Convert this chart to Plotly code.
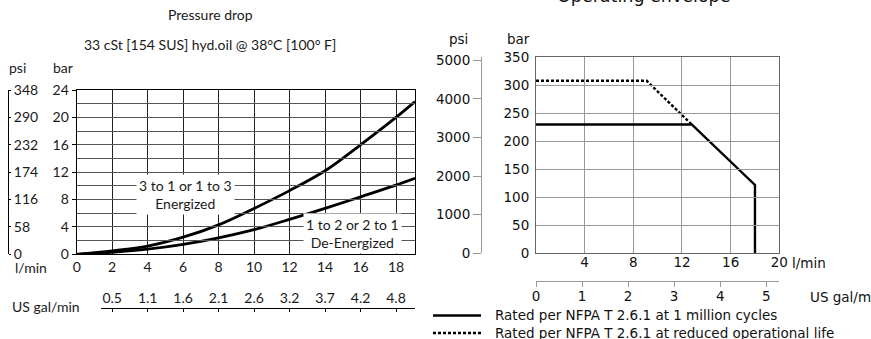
import plotly.graph_objects as go

W, H = 871, 339

# ---- left chart: pressure drop ----
FLOW_LPM = [0, 2, 4, 6, 8, 10, 12, 14, 16, 18, 19.07]
ENERGIZED_BAR = [0, 0.5, 1.2, 2.5, 4.3, 6.7, 9.3, 12.2, 16.0, 20.0, 22.3]
DEENERGIZED_BAR = [0, 0.3, 0.75, 1.45, 2.4, 3.6, 5.1, 6.7, 8.4, 10.1, 11.1]
LPM_TICKS = [0, 2, 4, 6, 8, 10, 12, 14, 16, 18]
BAR_TICKS = [0, 4, 8, 12, 16, 20, 24]
PSI_TICKS = [0, 58, 116, 174, 232, 290, 348]
GAL_TICK_LPM = [2, 4, 6, 8, 10, 12, 14, 16, 18]
GAL_LABELS = ["0.5", "1.1", "1.6", "2.1", "2.6", "3.2", "3.7", "4.2", "4.8"]

# ---- right chart: operating envelope ----
RATED_FLOW = [0, 12.8, 18, 18]
RATED_BAR = [230, 230, 122, 0]
REDUCED_FLOW = [0, 9.1, 12.8]
REDUCED_BAR = [308, 308, 230]
ENV_LPM_TICKS = [4, 8, 12, 16, 20]
ENV_BAR_TICKS = [0, 50, 100, 150, 200, 250, 300, 350]
ENV_PSI_TICKS = [0, 1000, 2000, 3000, 4000, 5000]
ENV_GAL_TICKS = [0, 1, 2, 3, 4, 5]

GAL_PER_L = 1 / 3.78541
PSI_PER_BAR = 14.5038

LFONT = dict(family="Lato, Open Sans, sans-serif", size=14, color="#1a1a1a")
RFONT = dict(family="DejaVu Sans, Liberation Sans, sans-serif", size=13.5, color="#111")


def px(x):
    return x / W


def py(y):
    return 1 - y / H


fig = go.Figure()

fig.add_scatter(x=FLOW_LPM, y=ENERGIZED_BAR, mode="lines", line=dict(color="black", width=2.8, shape="spline"),
                xaxis="x", yaxis="y", hoverinfo="skip")
fig.add_scatter(x=FLOW_LPM, y=DEENERGIZED_BAR, mode="lines", line=dict(color="black", width=2.8, shape="spline"),
                xaxis="x", yaxis="y", hoverinfo="skip")
fig.add_scatter(x=REDUCED_FLOW, y=REDUCED_BAR, mode="lines", line=dict(color="black", width=2.4, dash="3px,2px"),
                xaxis="x2", yaxis="y2", hoverinfo="skip")
fig.add_scatter(x=RATED_FLOW, y=RATED_BAR, mode="lines", line=dict(color="black", width=2.4),
                xaxis="x2", yaxis="y2", hoverinfo="skip")

# same curves in the secondary units, transparent, so the psi / gal axes get drawn
clear = dict(mode="lines", line=dict(color="rgba(0,0,0,0)", width=0), hoverinfo="skip")
fig.add_scatter(x=FLOW_LPM, y=[b * PSI_PER_BAR for b in ENERGIZED_BAR], xaxis="x", yaxis="y3", **clear)
fig.add_scatter(x=[f * GAL_PER_L for f in FLOW_LPM], y=ENERGIZED_BAR, xaxis="x3", yaxis="y", **clear)
fig.add_scatter(x=RATED_FLOW, y=[b * PSI_PER_BAR for b in RATED_BAR], xaxis="x2", yaxis="y4", **clear)
fig.add_scatter(x=[f * GAL_PER_L for f in RATED_FLOW], y=RATED_BAR, xaxis="x4", yaxis="y2", **clear)

x0_px, x1_px = 76.7, 415.0
lpm_per_px = 19.07 / (x1_px - x0_px)
gal_start_px = 101.0

fig.update_layout(
    width=W, height=H, autosize=False,
    margin=dict(l=0, r=0, t=0, b=0),
    paper_bgcolor="white", plot_bgcolor="rgba(0,0,0,0)",
    showlegend=False,
    xaxis=dict(
        domain=[px(x0_px), px(x1_px)], range=[0, 19.07], anchor="y", automargin=False,
        tickmode="array", tickvals=LPM_TICKS, ticks="", tickfont=LFONT,
        showgrid=True, gridcolor="#222", gridwidth=1, zeroline=False,
        showline=True, mirror=True, linecolor="black", linewidth=1.2,
    ),
    yaxis=dict(
        domain=[py(254.3), py(90)], range=[0, 24], anchor="x", automargin=False,
        tickmode="array", tickvals=BAR_TICKS, ticks="outside", ticklen=4, tickcolor="black",
        tickfont=LFONT, ticklabelstandoff=0,
        showgrid=True, gridcolor="#555", gridwidth=1, zeroline=False,
        minor=dict(dtick=2, showgrid=True, gridcolor="#555", gridwidth=1),
        showline=True, mirror=True, linecolor="black", linewidth=1.2,
    ),
    yaxis3=dict(
        overlaying="y", anchor="free", position=px(8), side="right", range=[0, 348], automargin=False,
        tickmode="array", tickvals=PSI_TICKS, ticks="outside", ticklen=2, tickcolor="black",
        tickfont=LFONT, showgrid=False, zeroline=False,
        showline=True, linecolor="black", linewidth=1,
    ),
    xaxis3=dict(
        domain=[px(gal_start_px), px(x1_px)], automargin=False,
        range=[(gal_start_px - x0_px) * lpm_per_px * GAL_PER_L, 19.07 * GAL_PER_L],
        anchor="free", position=py(308.3), side="top",
        tickmode="array", tickvals=[v * GAL_PER_L for v in GAL_TICK_LPM], ticktext=GAL_LABELS,
        ticks="inside", ticklen=3, tickcolor="black", tickfont=LFONT,
        showgrid=False, zeroline=False, showline=True, linecolor="black", linewidth=1,
    ),
    xaxis2=dict(
        domain=[px(536), px(779.3)], range=[0, 20], anchor="y2", automargin=False,
        tickmode="array", tickvals=ENV_LPM_TICKS, ticks="", tickfont=RFONT, ticklabelstandoff=-4,
        showgrid=True, gridcolor="#999", gridwidth=1, zeroline=False,
        showline=True, mirror=True, linecolor="#666", linewidth=1,
    ),
    yaxis2=dict(
        domain=[py(253.3), py(57.3)], range=[0, 350], anchor="x2", automargin=False,
        tickmode="array", tickvals=ENV_BAR_TICKS, ticks="", tickfont=RFONT, ticklabelstandoff=3,
        showgrid=True, gridcolor="#999", gridwidth=1, zeroline=False,
        showline=True, mirror=True, linecolor="#666", linewidth=1,
    ),
    yaxis4=dict(
        overlaying="y2", anchor="free", position=px(481), side="left", automargin=False,
        range=[0, 350 * PSI_PER_BAR],
        tickmode="array", tickvals=ENV_PSI_TICKS, ticks="outside", ticklen=8, tickcolor="#999",
        tickfont=RFONT, showgrid=False, zeroline=False,
        showline=True, linecolor="#999", linewidth=1,
    ),
    xaxis4=dict(
        domain=[px(536), px(779.3)], range=[0, 20 * GAL_PER_L], automargin=False,
        anchor="free", position=py(281), side="bottom",
        tickmode="array", tickvals=ENV_GAL_TICKS, ticks="outside", ticklen=5, tickcolor="#999",
        tickfont=RFONT, ticklabelstandoff=-2, showgrid=False, zeroline=False,
        showline=True, linecolor="#999", linewidth=1,
    ),
)


def note(text, x, y, font, xanchor="center", yanchor="middle"):
    fig.add_annotation(text=text, x=x, y=y, xref="paper", yref="paper", showarrow=False,
                       font=font, xanchor=xanchor, yanchor=yanchor)


# left chart text
note("Pressure drop", px(210), py(15), LFONT)
note("33 cSt [154 SUS] hyd.oil @ 38°C [100° F]", px(210), py(44), LFONT)
note("psi", px(17), py(68), LFONT)
note("bar", px(63), py(68), LFONT)
note("l/min", px(31), py(267), LFONT)
note("US gal/min", px(46), py(306), LFONT)

fig.add_annotation(text="3 to 1 or 1 to 3<br>Energized", x=(185 - x0_px) * lpm_per_px, y=8.8,
                   xref="x", yref="y", showarrow=False, font=LFONT, bgcolor="white", borderpad=2)
fig.add_annotation(text="1 to 2 or 2 to 1<br>De-Energized", x=(352 - x0_px) * lpm_per_px, y=2.97,
                   xref="x", yref="y", showarrow=False, font=LFONT, bgcolor="white", borderpad=2)

# right chart text
note("Operating envelope", px(643), py(-4), dict(RFONT, size=17.5))
note("psi", px(458), py(39), RFONT)
note("bar", px(518), py(39), RFONT)
note("l/min", px(790), py(263), RFONT, xanchor="left")
note("US gal/min", px(808), py(297), RFONT, xanchor="left")

# legend
fig.add_shape(type="line", xref="paper", yref="paper", x0=px(433), x1=px(481), y0=py(315.5), y1=py(315.5),
              line=dict(color="black", width=2.4))
fig.add_shape(type="line", xref="paper", yref="paper", x0=px(433), x1=px(481), y0=py(333), y1=py(333),
              line=dict(color="black", width=2.4, dash="3px,2px"))
note("Rated per NFPA T 2.6.1 at 1 million cycles", px(493), py(315), RFONT, xanchor="left")
note("Rated per NFPA T 2.6.1 at reduced operational life", px(493), py(332.5), RFONT, xanchor="left")

fig.write_html("out.html", config={"displayModeBar": False},
               post_script="document.body.style.margin = '0';")
